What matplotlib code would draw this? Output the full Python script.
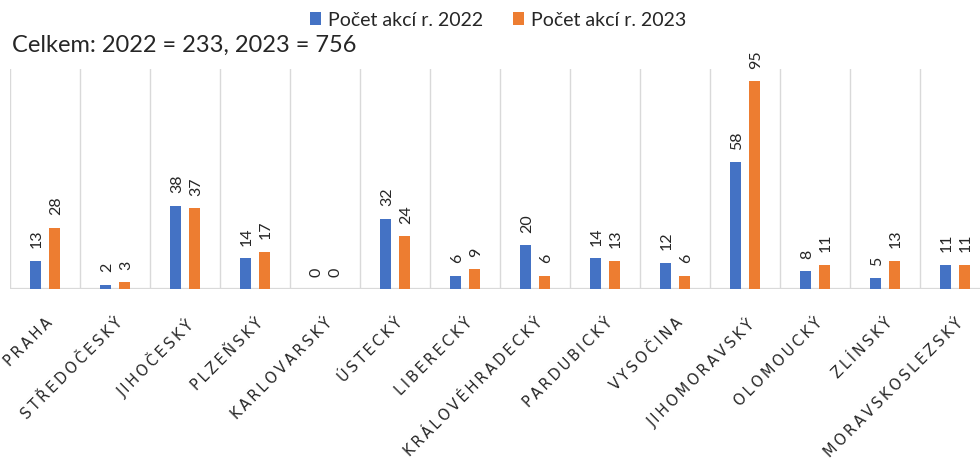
import matplotlib.pyplot as plt
import numpy as np

regions = ["PRAHA", "STŘEDOČESKÝ", "JIHOČESKÝ", "PLZEŇSKÝ", "KARLOVARSKÝ",
           "ÚSTECKÝ", "LIBERECKÝ", "KRÁLOVÉHRADECKÝ", "PARDUBICKÝ", "VYSOČINA",
           "JIHOMORAVSKÝ", "OLOMOUCKÝ", "ZLÍNSKÝ", "MORAVSKOSLEZSKÝ"]
akce_2022 = [13, 2, 38, 14, 0, 32, 6, 20, 14, 12, 58, 8, 5, 11]
akce_2023 = [28, 3, 37, 17, 0, 24, 9, 6, 13, 6, 95, 11, 13, 11]
series_names = ["Počet akcí r. 2022", "Počet akcí r. 2023"]
total_text = "Celkem: 2022 = 233, 2023 = 756"

BLUE = "#4472C4"
ORANGE = "#ED7D31"
GRID = "#d9d9d9"
TXT = "#262626"

plt.rcParams["font.family"] = ["Lato", "DejaVu Sans"]

fig = plt.figure(figsize=(9.8, 4.61), dpi=100)
# axis runs past the right edge like in the source screenshot
ax = fig.add_axes([10 / 980, 172 / 461, 980 / 980, 220 / 461])

x = np.arange(len(regions))
w = 0.145
off = 0.135
b1 = ax.bar(x - off, akce_2022, width=w, color=BLUE, label=series_names[0], zorder=3)
b2 = ax.bar(x + off, akce_2023, width=w, color=ORANGE, label=series_names[1], zorder=3)

for bars, vals in ((b1, akce_2022), (b2, akce_2023)):
    for bar, v in zip(bars, vals):
        ax.annotate(str(v), (bar.get_x() + bar.get_width() / 2, bar.get_height()),
                    xytext=(1, 9), textcoords="offset points", rotation=90,
                    ha="center", va="bottom", fontsize=11.5, color=TXT)

ax.set_xlim(-0.5, len(regions) - 0.5)
ax.set_ylim(0, 100.5)
for k in range(len(regions) + 1):
    ax.axvline(k - 0.5, color=GRID, lw=1.0, zorder=1)
ax.axhline(0, color=GRID, lw=1.6, zorder=2)

for s in ax.spines.values():
    s.set_visible(False)
ax.set_yticks([])
ax.set_xticks(x)
spaced = ["\u2009".join(r) for r in regions]
ax.set_xticklabels(spaced, rotation=45, ha="right", rotation_mode="anchor",
                   fontsize=10.5, color=TXT, family=["DejaVu Sans"])
ax.tick_params(axis="x", length=0, pad=19)

fig.legend(handles=[b1, b2], labels=series_names, loc="center",
           bbox_to_anchor=(498 / 980, 1 - 20 / 461), ncol=2, frameon=False,
           fontsize=14, handlelength=0.6, handleheight=0.6, handletextpad=0.35,
           columnspacing=1.5, labelcolor=TXT)
fig.text(12 / 980, 1 - 45 / 461, total_text, fontsize=17, color=TXT, va="center", ha="left")

fig.savefig("out.png", dpi=100)
